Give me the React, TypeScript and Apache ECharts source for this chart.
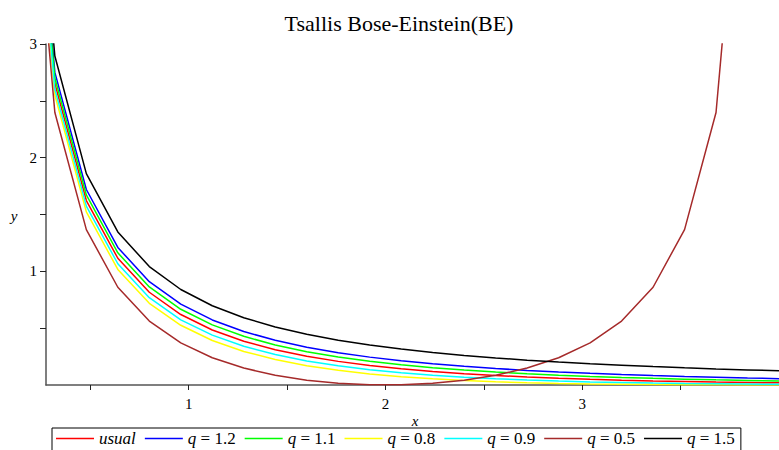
import React, { useEffect, useRef } from "react";
import * as echarts from "echarts";

const xs = [0.16, 0.32, 0.48, 0.64, 0.8, 0.96, 1.12, 1.28, 1.44, 1.6, 1.76, 1.92, 2.08, 2.24, 2.4, 2.56, 2.72, 2.88, 3.04, 3.2, 3.36, 3.52, 3.68, 3.84, 4.0];

const usual = [5.763, 2.652, 1.623, 1.115, 0.816, 0.62, 0.484, 0.385, 0.3105, 0.253, 0.2078, 0.1718, 0.1428, 0.1191, 0.0998, 0.0838, 0.0705, 0.0595, 0.0502, 0.0425, 0.036, 0.0305, 0.0259, 0.022, 0.0187];
const q12 = [5.862, 2.75, 1.72, 1.21, 0.909, 0.711, 0.5723, 0.4704, 0.393, 0.3325, 0.2843, 0.2452, 0.2131, 0.1864, 0.1639, 0.1449, 0.1286, 0.1146, 0.1026, 0.092, 0.0829, 0.0748, 0.0677, 0.0614, 0.0559];
const q11 = [5.813, 2.701, 1.672, 1.163, 0.863, 0.6663, 0.5288, 0.4282, 0.3522, 0.2931, 0.2464, 0.2087, 0.178, 0.1527, 0.1317, 0.114, 0.0991, 0.0865, 0.0757, 0.0664, 0.0584, 0.0515, 0.0455, 0.0403, 0.0358];
const q08 = [5.663, 2.551, 1.523, 1.0169, 0.719, 0.5253, 0.3916, 0.2953, 0.224, 0.1701, 0.129, 0.0973, 0.0729, 0.054, 0.0395, 0.0285, 0.0201, 0.0139, 0.0093, 0.0061, 0.0038, 0.0023, 0.0013, 0.0007, 0.0003];
const q09 = [5.713, 2.602, 1.574, 1.0667, 0.768, 0.5735, 0.4386, 0.3408, 0.2678, 0.212, 0.1686, 0.1346, 0.1076, 0.086, 0.0687, 0.0548, 0.0436, 0.0346, 0.0274, 0.0216, 0.0169, 0.0132, 0.0103, 0.0079, 0.0061];
const q05 = [5.51, 2.397, 1.367, 0.86, 0.5625, 0.3706, 0.2401, 0.1489, 0.0851, 0.0417, 0.0146, 0.0016, 0.0016, 0.0146, 0.0417, 0.0851, 0.1489, 0.2401, 0.3706, 0.5625, 0.86, 1.367, 2.397, 5.51, null];
const q15 = [6.01, 2.894, 1.86, 1.347, 1.0417, 0.8401, 0.6975, 0.5919, 0.5106, 0.4464, 0.3946, 0.3519, 0.3163, 0.2862, 0.2604, 0.2382, 0.2188, 0.2019, 0.1869, 0.1736, 0.1617, 0.1511, 0.1415, 0.1329, 0.125];

const seriesNames = ["usual", "q = 1.2", "q = 1.1", "q = 0.8", "q = 0.9", "q = 0.5", "q = 1.5"];
const seriesValues = [usual, q12, q11, q08, q09, q05, q15];
const seriesColors = ["#ff0000", "#0000ff", "#00ff00", "#ffff00", "#00ffff", "#a52a2a", "#000000"];

const xTicks = [0.5, 1, 1.5, 2, 2.5, 3, 3.5];
const xLabels = [1, 2, 3];
const yTicks = [0.5, 1, 1.5, 2, 2.5, 3];
const yLabels = [1, 2, 3];

const SERIF = "Liberation Serif, Times New Roman, DejaVu Serif, serif";

export default function App() {
  const ref = useRef<HTMLDivElement>(null);
  useEffect(() => {
    if (!ref.current) return;
    const chart = echarts.init(ref.current, undefined, { renderer: "svg" });
    const series = seriesNames.map((name, si) => ({
      name,
      type: "line",
      data: xs.map((x, i) => [x, seriesValues[si][i]]),
      symbol: "none",
      showSymbol: false,
      clip: true,
      connectNulls: false,
      lineStyle: { color: seriesColors[si], width: 1.5 },
      itemStyle: { color: seriesColors[si] },
      emphasis: { disabled: true },
    }));
    chart.setOption({
      animation: false,
      backgroundColor: "#ffffff",
      textStyle: { fontFamily: SERIF },
      grid: { left: 46, top: 44, width: 737, height: 341 },
      xAxis: {
        type: "value",
        min: 0.275,
        max: 4,
        axisLine: { show: true, onZero: false, lineStyle: { color: "#555", width: 1.5 } },
        axisTick: { show: true, customValues: xTicks, length: 5, lineStyle: { color: "#222" } },
        axisLabel: { customValues: xLabels, margin: 11, color: "#000", fontFamily: SERIF, fontSize: 15 },
        splitLine: { show: false },
      },
      yAxis: {
        type: "value",
        min: 0,
        max: 3,
        axisLine: { show: true, lineStyle: { color: "#555", width: 1.5 } },
        axisTick: { show: true, customValues: yTicks, length: 6, lineStyle: { color: "#222" } },
        axisLabel: { customValues: yLabels, margin: 9, color: "#000", fontFamily: SERIF, fontSize: 15 },
        splitLine: { show: false },
      },
      legend: {
        left: 52,
        top: 428,
        padding: [2, 6, 4, 4],
        icon: "rect",
        itemWidth: 38,
        itemHeight: 1.5,
        itemGap: 9,
        borderColor: "#000",
        borderWidth: 1,
        data: seriesNames,
        formatter: (name: string) => (name === "usual" ? "{i|usual}" : "{i|q}" + name.slice(1)),
        textStyle: {
          fontFamily: SERIF,
          fontSize: 17,
          color: "#000",
          rich: { i: { fontStyle: "italic", fontFamily: SERIF, fontSize: 17, color: "#000" } },
        },
      },
      graphic: [
        {
          type: "text",
          x: 399,
          y: 23,
          style: { text: "Tsallis Bose-Einstein(BE)", font: "22px " + SERIF, fill: "#000", textAlign: "center", textVerticalAlign: "middle" },
        },
        {
          type: "text",
          x: 14,
          y: 216,
          style: { text: "y", font: "italic 15px " + SERIF, fill: "#000", textAlign: "center", textVerticalAlign: "middle" },
        },
        {
          type: "text",
          x: 415,
          y: 421,
          style: { text: "x", font: "italic 15px " + SERIF, fill: "#000", textAlign: "center", textVerticalAlign: "middle" },
        },
      ],
      series,
    });
    return () => chart.dispose();
  }, []);
  return <div ref={ref} style={{ position: "fixed", left: 0, top: 0, width: 779, height: 450 }} />;
}
